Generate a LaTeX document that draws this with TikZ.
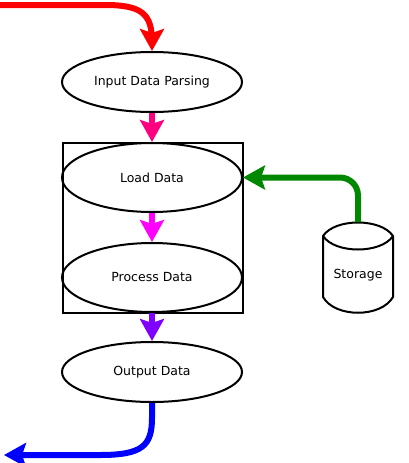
\documentclass[tikz,border=0pt]{standalone}
\usepackage{fontspec}
\setmainfont{DejaVu Sans}
\usetikzlibrary{shapes.geometric,arrows.meta}
\definecolor{flowred}{RGB}{255,0,0}
\definecolor{flowpink}{RGB}{255,0,128}
\definecolor{flowmagenta}{RGB}{255,0,255}
\definecolor{flowpurple}{RGB}{128,0,255}
\definecolor{flowblue}{RGB}{0,0,255}
\definecolor{flowgreen}{RGB}{0,136,0}
\tikzset{
  stage/.style={draw=black,line width=2pt,ellipse,inner sep=0pt,
    minimum width=180pt,font=\fontsize{12.5}{14}\selectfont},
  flow/.style={line width=6pt,-{Stealth[length=22pt,width=24pt,inset=4pt]}},
}
\begin{document}
\begin{tikzpicture}[x=1pt,y=1pt]
\useasboundingbox (0,0) rectangle (408,-463);
% stages:
\node[stage,minimum height=60pt] (parse) at (152,-82) {Input Data Parsing};
\draw[line width=2pt] (63,-143) rectangle (243,-313);
\node[stage,minimum height=69pt] (load) at (152,-177.5) {Load Data};
\node[stage,minimum height=69pt] (proc) at (152,-277.5) {Process Data};
\node[stage,minimum height=60pt] (out) at (152,-372) {Output Data};
% storage drum:
\draw[line width=2pt] (323,-236) .. controls (335,-218) and (381,-218) .. (393,-236)
  -- (393,-297) .. controls (381,-318) and (335,-318) .. (323,-297) -- cycle;
\draw[line width=2pt] (323,-236) .. controls (335,-254) and (381,-254) .. (393,-236);
\node[font=\fontsize{12.5}{14}\selectfont] (store) at (358,-275) {Storage};
\coordinate (storetop) at (358,-222);
% flows:
\coordinate (src) at (0,-5);
\coordinate (sink) at (4,-455);
\draw[flow,flowred] (src) -- (105,-5) .. controls (142,-5) and (152,-14) .. (152,-42)
  -- (parse.north);
\draw[flow,flowpink] (parse.south) -- (load.north);
\draw[flow,flowmagenta] (load.south) -- (proc.north);
\draw[flow,flowpurple] (proc.south) -- (out.north);
\draw[flow,flowblue] (out.south) -- (152,-418) .. controls (152,-446) and (142,-455) .. (100,-455)
  -- (sink);
\draw[flow,flowgreen,rounded corners=18pt] (storetop) |- (load.east);
\end{tikzpicture}
\end{document}
